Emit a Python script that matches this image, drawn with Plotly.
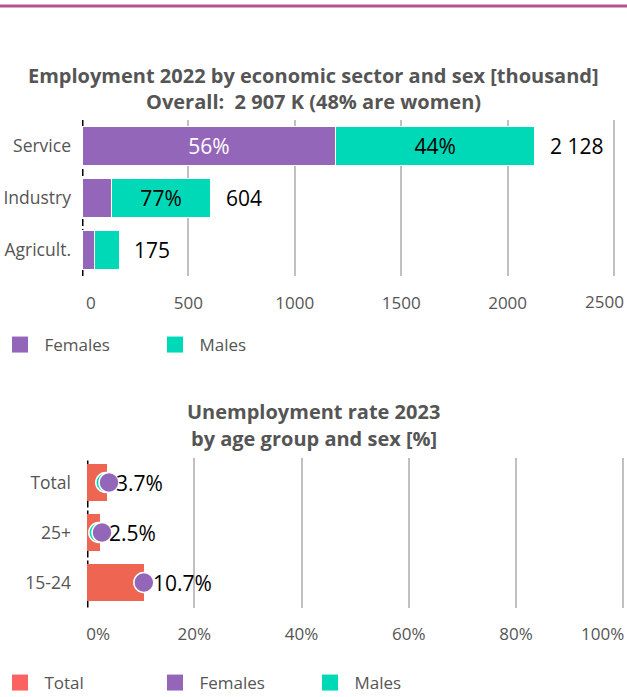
import plotly.graph_objects as go

# ---------------- data ----------------
sectors = ["Service", "Industry", "Agricult."]
emp_female = [1192, 139, 60]
emp_male = [936, 465, 115]
emp_total_labels = ["2 128", "604", "175"]
emp_female_labels = ["56%", "", ""]
emp_male_labels = ["44%", "77%", ""]
emp_ticks = [0, 500, 1000, 1500, 2000, 2500]
emp_ticktext = ["0", "500", "1000", "1500", "2000", "2500"]

age_groups = ["Total", "25+", "15-24"]
unemp_total = [3.7, 2.5, 10.7]
unemp_female = [4.1, 2.8, 10.6]
unemp_male = [3.5, 2.2, 10.8]
unemp_labels = ["3.7%", "2.5%", "10.7%"]
unemp_ticks = [0, 20, 40, 60, 80, 100]
unemp_ticktext = ["0%", "20%", "40%", "60%", "80%", "100%"]

# ---------------- style ----------------
W, H = 627, 697
PURPLE = "#9466ba"
TEAL = "#00d9b8"
RED = "#ee6551"
RED_LEG = "#fb6363"
GRAY = "#555555"
GRID = "#c0c0c0"
FONT = "Open Sans"
NB = "\u00a0"
TICKFONT = dict(size=17, color=GRAY, family=FONT)

def py(px):  # pixel from top -> paper y
    return 1 - px / H

def axis_text(labels, left):
    # first label nudged right of the zero line; last label drawn separately,
    # right-aligned at the page edge (as in the original)
    out = list(labels)
    out[0] = NB * left + out[0]
    out[-1] = ""
    return out

fig = go.Figure()

# ---- chart 1: employment ----
fig.add_trace(go.Bar(
    y=sectors, x=emp_female, orientation="h", name="Females",
    marker=dict(color=PURPLE, line=dict(color="white", width=1.2)),
    width=0.75, text=emp_female_labels, textposition="inside",
    insidetextanchor="middle", textfont=dict(color="white", size=21, family=FONT),
    constraintext="none", xaxis="x", yaxis="y", showlegend=False))
fig.add_trace(go.Bar(
    y=sectors, x=emp_male, orientation="h", name="Males",
    marker=dict(color=TEAL, line=dict(color="white", width=1.2)),
    width=0.75, text=emp_male_labels, textposition="inside",
    insidetextanchor="middle", textfont=dict(color="black", size=21, family=FONT),
    constraintext="none", xaxis="x", yaxis="y", showlegend=False))

emp_totals = [f + m for f, m in zip(emp_female, emp_male)]
for s, t, lab in zip(sectors, emp_totals, emp_total_labels):
    fig.add_annotation(x=t, y=s, xref="x", yref="y", text=lab, showarrow=False,
                       xanchor="left", xshift=13, font=dict(size=21, color="black", family=FONT))

# legend entries chart 1
fig.add_trace(go.Scatter(x=[None], y=[None], mode="markers", name=NB + "Females",
                         marker=dict(symbol="square", size=17, color=PURPLE),
                         legend="legend", xaxis="x", yaxis="y"))
fig.add_trace(go.Scatter(x=[None], y=[None], mode="markers", name=NB + "Males",
                         marker=dict(symbol="square", size=17, color=TEAL),
                         legend="legend", xaxis="x", yaxis="y"))

# ---- chart 2: unemployment ----
fig.add_trace(go.Bar(
    y=age_groups, x=unemp_total, orientation="h", name="Total",
    marker=dict(color=RED, line=dict(width=0)), width=0.74,
    xaxis="x2", yaxis="y2", showlegend=False))
fig.add_trace(go.Scatter(
    y=age_groups, x=unemp_male, mode="markers", name="Males",
    marker=dict(color=TEAL, size=20, line=dict(color="white", width=1.5)),
    xaxis="x2", yaxis="y2", showlegend=False))
fig.add_trace(go.Scatter(
    y=age_groups, x=unemp_female, mode="markers", name="Females",
    marker=dict(color=PURPLE, size=20, line=dict(color="white", width=1.5)),
    xaxis="x2", yaxis="y2", showlegend=False))
for g, v, lab in zip(age_groups, unemp_total, unemp_labels):
    fig.add_annotation(x=v, y=g, xref="x2", yref="y2", text=lab, showarrow=False,
                       xanchor="left", xshift=7, font=dict(size=21, color="black", family=FONT))

for nm, col in [("Total", RED_LEG), ("Females", PURPLE), ("Males", TEAL)]:
    fig.add_trace(go.Scatter(x=[None], y=[None], mode="markers", name=NB + nm,
                             marker=dict(symbol="square", size=17, color=col),
                             legend="legend2", xaxis="x2", yaxis="y2"))

# last tick labels, right-aligned so they stay on the page
for xr, yr, val, lab, xs, ys in [("x", "y domain", emp_ticks[-1], emp_ticktext[-1], 12, -12),
                                 ("x2", "y2 domain", unemp_ticks[-1], unemp_ticktext[-1], 3, -12)]:
    fig.add_annotation(x=val, y=0, xref=xr, yref=yr, text=lab, showarrow=False,
                       xanchor="right", yanchor="top", xshift=xs, yshift=ys,
                       font=TICKFONT)

# dashed zero lines
for xr, yr in [("x", "y domain"), ("x2", "y2 domain")]:
    fig.add_shape(type="line", xref=xr, yref=yr, x0=0, x1=0, y0=0, y1=1,
                  line=dict(color="black", width=3, dash="7px,3px"), layer="below")

# titles
for txt, ypx in [("Employment 2022 by economic sector and sex [thousand]", 75),
                 ("Overall:  2 907 K (48% are women)", 101),
                 ("Unemployment rate 2023", 411),
                 ("by age group and sex [%]", 438)]:
    fig.add_annotation(x=0.5, y=py(ypx), xref="paper", yref="paper", text=f"<b>{txt}</b>",
                       showarrow=False, xanchor="center", yanchor="middle",
                       font=dict(size=20, color=GRAY, family=FONT))

# top magenta line
fig.add_shape(type="line", xref="paper", yref="paper", x0=0, x1=1, y0=py(6), y1=py(6),
              line=dict(color="#b05590", width=3))

axis_common = dict(showline=False, zeroline=False, ticks="", automargin=False,
                   ticklabeloverflow="allow", tickfont=TICKFONT,
                   showgrid=True, gridcolor=GRID, gridwidth=1.6)
yaxis_common = dict(range=[2.5, -0.5], categoryorder="array", automargin=False,
                    showgrid=False, showline=False, zeroline=False, ticks="",
                    tickfont=dict(size=17.5, color=GRAY, family=FONT))

fig.update_layout(
    width=W, height=H, margin=dict(l=0, r=0, t=0, b=0, pad=0, autoexpand=False),
    paper_bgcolor="white", plot_bgcolor="white",
    barmode="stack", font=dict(family=FONT, color=GRAY),
    xaxis=dict(domain=[82 / W, 1], range=[0, 2561], tickvals=emp_ticks,
               ticktext=axis_text(emp_ticktext, 4),
               anchor="y", ticklabelstandoff=15, **axis_common),
    yaxis=dict(domain=[py(276), py(120)], anchor="x", categoryarray=sectors,
               ticklabelstandoff=10, **yaxis_common),
    xaxis2=dict(domain=[87 / W, 1], range=[0, 100.7], tickvals=unemp_ticks,
                ticktext=axis_text(unemp_ticktext, 5),
                anchor="y2", ticklabelstandoff=14, **axis_common),
    yaxis2=dict(domain=[py(607.5), py(457.5)], anchor="x2", categoryarray=age_groups,
                ticklabelstandoff=15, **yaxis_common),
    legend=dict(orientation="h", x=0, xanchor="left", y=py(345), yanchor="middle",
                entrywidth=110, entrywidthmode="pixels", traceorder="normal",
                font=dict(size=17, color=GRAY, family=FONT), bgcolor="rgba(0,0,0,0)"),
    legend2=dict(orientation="h", x=0, xanchor="left", y=py(683), yanchor="middle",
                 entrywidth=110, entrywidthmode="pixels", traceorder="normal",
                 font=dict(size=17, color=GRAY, family=FONT), bgcolor="rgba(0,0,0,0)"),
    showlegend=True,
)

fig.write_html("out.html", config={"displayModeBar": False},
               post_script="document.body.style.margin='0';document.body.style.overflow='hidden';")
